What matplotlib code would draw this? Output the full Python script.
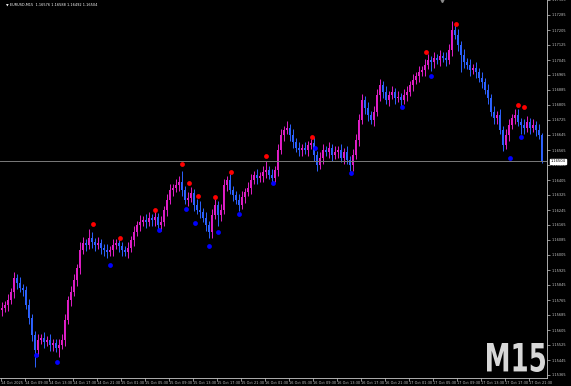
import numpy as np
import matplotlib
matplotlib.use("Agg")
import matplotlib.pyplot as plt
from matplotlib.textpath import TextPath
from matplotlib.patches import PathPatch
from matplotlib.font_manager import FontProperties
from matplotlib.transforms import Affine2D

closes = [
    1.15722, 1.15738, 1.15765, 1.15808, 1.15882, 1.15856, 1.15829, 1.15818, 1.15738, 1.15669,
    1.15578, 1.15498, 1.15552, 1.15562, 1.15541, 1.15552, 1.15525, 1.15536, 1.15509, 1.15525,
    1.15552, 1.15658, 1.15765, 1.15808, 1.15872, 1.15936, 1.16032, 1.16069, 1.16058, 1.16096,
    1.16074, 1.16058, 1.16069, 1.16042, 1.16032, 1.16021, 1.16032, 1.16058, 1.16069, 1.16053,
    1.16032, 1.16021, 1.16042, 1.16085, 1.16128, 1.16165, 1.16181, 1.16192, 1.16181, 1.16202,
    1.16192, 1.16208, 1.16165, 1.16181, 1.16245, 1.16298, 1.16352, 1.16362, 1.16378, 1.16394,
    1.16352, 1.16298, 1.16309, 1.16336, 1.16272, 1.16245, 1.16234, 1.16202, 1.16165, 1.16128,
    1.16218, 1.16272, 1.16218, 1.16245, 1.16378, 1.16405, 1.16352, 1.16325, 1.16298, 1.16272,
    1.16314, 1.16341, 1.16362, 1.16405, 1.16432, 1.16416, 1.16426, 1.16448, 1.16458, 1.16432,
    1.16416, 1.16458, 1.16565, 1.16645, 1.16672, 1.16682, 1.16645, 1.16608, 1.16576, 1.16565,
    1.16576, 1.16565, 1.16592, 1.16602, 1.16538, 1.16485, 1.16522, 1.16565, 1.16554, 1.16576,
    1.16538, 1.16554, 1.16565, 1.16522, 1.16554, 1.16512, 1.16485, 1.16538, 1.16618, 1.16725,
    1.16832, 1.16789, 1.16752, 1.16725, 1.16768, 1.16858, 1.16912, 1.16874, 1.16832, 1.16858,
    1.16874, 1.16842, 1.16848, 1.16832, 1.16858, 1.16874, 1.16912, 1.16938, 1.16960, 1.16981,
    1.16992, 1.17018, 1.17045, 1.17034, 1.17056, 1.17045, 1.17066, 1.17056, 1.17045, 1.17098,
    1.17205, 1.17178, 1.17125, 1.17072, 1.17034, 1.17018, 1.16992, 1.17002, 1.16981, 1.16949,
    1.16928, 1.16885, 1.16842, 1.16768, 1.16736, 1.16752, 1.16672, 1.16592, 1.16645, 1.16698,
    1.16736, 1.16752, 1.16714, 1.16698, 1.16682, 1.16714, 1.16682, 1.16698, 1.16672, 1.16645,
    1.16504,
]
first_open = 1.15710

# wick lengths beyond the body, in pips
upper_wick = [
    3, 2, 3, 2, 3, 2, 3, 2, 2, 3, 2, 2, 3, 2, 3, 2, 3, 2, 2, 3,
    3, 3, 2, 3, 3, 2, 4, 3, 2, 5, 3, 2, 3, 2, 2, 3, 2, 3, 2, 3,
    2, 2, 3, 2, 3, 2, 4, 2, 3, 3, 2, 4, 2, 3, 2, 3, 3, 2, 3, 3,
    6, 2, 3, 3, 2, 3, 5, 2, 3, 2, 3, 3, 2, 3, 3, 2, 3, 2, 2, 3,
    3, 2, 3, 3, 2, 3, 2, 3, 5, 2, 3, 2, 3, 3, 2, 4, 2, 3, 2, 3,
    2, 3, 2, 2, 3, 2, 3, 3, 2, 3, 2, 3, 2, 3, 2, 3, 2, 3, 3, 3,
    3, 2, 3, 2, 3, 3, 3, 2, 3, 2, 3, 2, 3, 2, 3, 3, 2, 3, 2, 3,
    2, 3, 3, 2, 3, 2, 3, 2, 3, 3, 5, 3, 3, 2, 3, 2, 3, 2, 3, 2,
    3, 2, 3, 2, 3, 2, 3, 2, 3, 3, 2, 3, 3, 2, 3, 3, 2, 3, 2, 3,
    1,
]
lower_wick = [
    3, 2, 3, 2, 3, 3, 2, 3, 2, 3, 3, 9, 3, 2, 3, 2, 3, 3, 2, 5,
    2, 3, 2, 3, 2, 3, 3, 2, 3, 2, 3, 3, 2, 3, 3, 3, 2, 3, 2, 3,
    3, 2, 3, 2, 3, 2, 3, 2, 3, 2, 3, 3, 2, 3, 2, 3, 2, 3, 2, 3,
    3, 2, 3, 2, 3, 2, 3, 2, 3, 3, 3, 2, 6, 3, 2, 3, 2, 3, 2, 3,
    2, 3, 2, 3, 2, 3, 2, 3, 3, 2, 3, 2, 3, 2, 3, 2, 3, 3, 2, 3,
    3, 2, 3, 2, 3, 3, 2, 3, 2, 3, 3, 2, 3, 2, 3, 2, 3, 3, 2, 3,
    2, 3, 3, 2, 3, 2, 3, 3, 2, 3, 2, 3, 2, 3, 2, 3, 2, 3, 2, 3,
    2, 3, 2, 5, 3, 2, 3, 2, 3, 2, 3, 2, 3, 9, 3, 2, 3, 2, 3, 2,
    3, 2, 3, 2, 3, 3, 2, 3, 2, 3, 2, 3, 2, 5, 3, 2, 3, 2, 3, 2,
    1,
]

# fractal markers: M15 bar index and price
fractal_up_bar = [61, 79, 102, 120, 125, 131, 142, 153, 176, 207, 283, 303, 344, 348]
fractal_up_price = [1.16170, 1.16096, 1.16245, 1.16490, 1.16389, 1.16320, 1.16314,
                    1.16448, 1.16533, 1.16634, 1.17088, 1.17237, 1.16805, 1.16794]
fractal_dn_bar = [23, 37, 72, 105, 123, 129, 138, 144, 158, 181, 209, 233, 267, 286, 339, 346]
fractal_dn_price = [1.15472, 1.15434, 1.15952, 1.16138, 1.16250, 1.16176, 1.16053, 1.16128,
                    1.16224, 1.16389, 1.16576, 1.16442, 1.16794, 1.16960, 1.16522, 1.16634]

time_labels = ["14 Oct 2025", "14 Oct 09:30", "14 Oct 13:30", "14 Oct 17:30", "14 Oct 21:30",
               "15 Oct 01:30", "15 Oct 05:30", "15 Oct 09:30", "15 Oct 13:30", "15 Oct 17:30",
               "15 Oct 21:30", "16 Oct 01:30", "16 Oct 05:30", "16 Oct 09:30", "16 Oct 13:30",
               "16 Oct 17:30", "16 Oct 21:30", "17 Oct 01:30", "17 Oct 05:30", "17 Oct 09:30",
               "17 Oct 13:30", "17 Oct 17:30", "17 Oct 21:30"]
price_levels = [1.15365 + 0.0008 * k for k in range(26)]
last_price = 1.16504
header = "EURUSD,M15  1.16576 1.16588 1.16492 1.16504"

BULL = "#e01ec8"
BEAR = "#2d62ff"
DOJI = "#1aa01a"

fig = plt.figure(figsize=(5.71, 3.86), dpi=100, facecolor="black")
ax = fig.add_axes([0, 8 / 386, 547 / 571, 378 / 386])
ax.set_facecolor("black")

opens = [first_open] + closes[:-1]
for i, (o, c) in enumerate(zip(opens, closes)):
    x = 2 * i + 0.5
    hi = max(o, c) + upper_wick[i] * 0.0001
    lo = min(o, c) - lower_wick[i] * 0.0001
    if abs(c - o) < 0.00003:
        col = DOJI
    elif c > o:
        col = BULL
    else:
        col = BEAR
    ax.plot([x, x], [lo, hi], color=col, lw=0.7, solid_capstyle="butt")
    ax.bar(x, max(abs(c - o), 0.00003), bottom=min(o, c), width=1.3, color=col, lw=0)

ax.scatter(np.array(fractal_up_bar) + 0.5, fractal_up_price, s=12, color="#ff0000", lw=0, zorder=3)
ax.scatter(np.array(fractal_dn_bar) + 0.5, fractal_dn_price, s=12, color="#0000ff", lw=0, zorder=3)

ax.axhline(last_price, color="#7a7a7a", lw=0.7)

ax.set_xlim(-0.5, 547 / 1.5 - 0.5)
ax.set_ylim(1.15365 - 3 * 0.0008 / 15, 1.17365)

ax.yaxis.tick_right()
ax.set_yticks(price_levels)
ax.set_yticklabels(["%.5f" % p for p in price_levels])
ax.set_xticks([16 * k for k in range(len(time_labels))])
ax.set_xticklabels(time_labels)
for lab in ax.get_xticklabels():
    lab.set_horizontalalignment("left")
ax.tick_params(colors="#c8c8c8", labelsize=2.5, length=2, width=0.5, pad=1)
ax.tick_params(axis="x", pad=0.5)

for side in ["left", "top"]:
    ax.spines[side].set_visible(False)
for side in ["right", "bottom"]:
    ax.spines[side].set_color("#c8c8c8")
    ax.spines[side].set_linewidth(0.6)

# current price tag on the axis
ax.text(1.006, last_price, "%.5f" % last_price, transform=ax.get_yaxis_transform(),
        fontsize=2.6, color="black", va="center", ha="left",
        bbox=dict(boxstyle="square,pad=0.15", fc="white", ec="white"), clip_on=False)

fig.text(6 / 571, 1 - 5 / 386, "\u25bc " + header, fontsize=2.5, color="white", va="center")
ax.plot([441 / 1.5], [1.17365], marker="v", color="#8a8a8a", ms=3, clip_on=False)

# big timeframe watermark, squeezed to the narrow face used in the screenshot
tp = TextPath((0, 0), "M15", size=1, prop=FontProperties(family="DejaVu Sans", weight="bold"))
ext = tp.get_extents()
sx = 58 / ext.width
sy = 29 / ext.height
tf = Affine2D().translate(-ext.x0, -ext.y0).scale(sx, sy).translate(487, 386 - 372)
fig.patches.append(PathPatch(tp, transform=tf, fc="#d8d8d8", ec="none"))

fig.savefig("out.png", dpi=100, facecolor="black")
